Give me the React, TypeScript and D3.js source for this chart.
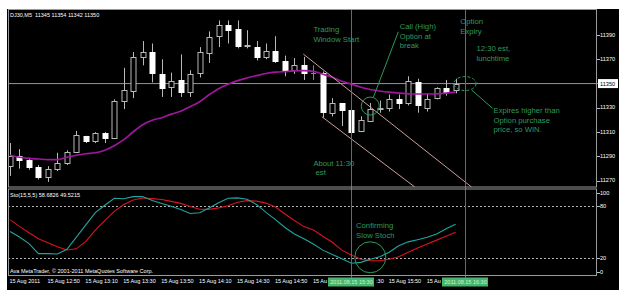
import React from 'react';
import * as d3 from 'd3';

const symbolHeader = 'DJ30,M5  11345 11354 11342 11350';
const stochHeader = 'Sto(15,5,5) 58.6826 49.5215';
const copyright = 'Ava MetaTrader, \u00A9 2001-2011 MetaQuotes Software Corp.';

const opens = [11282,11290,11287,11281,11273,11280,11285,11294,11307,11303,11309,11305,11336,11344,11372,11376,11358,11347,11353,11343,11359,11375,11389,11398,11395,11381,11380,11372,11377,11369,11361,11365,11359,11359,11326,11334,11328,11311,11319,11329,11330,11337,11334,11351,11330,11338,11346,11345];
const highs = [11301,11296,11289,11283,11282,11293,11295,11311,11307,11310,11310,11337,11363,11376,11385,11383,11370,11359,11374,11361,11380,11393,11402,11402,11402,11394,11385,11383,11389,11373,11371,11372,11365,11360,11338,11334,11328,11323,11334,11336,11341,11341,11356,11354,11342,11347,11353,11354];
const lows = [11274,11280,11279,11271,11269,11278,11283,11293,11301,11301,11301,11305,11329,11338,11365,11351,11339,11339,11339,11339,11355,11367,11380,11383,11379,11379,11369,11370,11367,11356,11358,11353,11353,11322,11323,11315,11309,11310,11319,11326,11327,11329,11332,11326,11327,11337,11340,11342];
const closes = [11290,11287,11281,11273,11280,11285,11294,11308,11303,11309,11305,11336,11345,11372,11376,11359,11346,11352,11343,11358,11376,11388,11398,11394,11381,11382,11372,11377,11369,11361,11365,11359,11359,11327,11334,11328,11310,11320,11329,11330,11337,11334,11352,11332,11337,11346,11343,11350];

const maValues = [11291,11289.3,11288.4,11287.9,11287.4,11287.4,11289.3,11291,11292.2,11293,11295.1,11298.8,11303.8,11310.3,11316.1,11319.8,11321.9,11324.8,11327.2,11331,11335.1,11340.8,11345.8,11349.5,11352.4,11354.6,11356.5,11358.3,11359.4,11359.9,11360.4,11360.6,11360,11357.7,11355.2,11351.9,11349.5,11347,11345.1,11343.9,11342.9,11342.1,11341.6,11341.4,11341.4,11341.6,11342.2,11343];

const stochMain = [50.5,44,36.5,25,25,24.5,30,44,58,72,80.5,88.5,88,90.4,90.6,86,82.6,79.5,75.7,71,72,77.5,83.5,88.6,89,87.4,81.5,72.3,64,55,47.5,42,36,29,24,19,14,15,18.5,21.5,26.5,34,38.5,41,43.7,47.5,53.5,58.7];
const stochSignal = [64,56.3,49,42,37.5,33,29.2,30.5,39,52,63,73.5,81.3,86.6,88.8,88.2,87.2,85,82.7,79,76,75.8,77.5,80,84,85.8,85.3,83,78.5,70.5,63,56,52,45,38,29,23.4,18.5,17,16.9,18.5,21.5,26.5,31.5,36,40.5,45,49.5];

const timeTickBars = [0,4,8,12,16,20,24,28,32,36,40,44];
const timeTickLabels = ['15 Aug 2011','15 Aug 12:50','15 Aug 13:10','15 Aug 13:30','15 Aug 13:50','15 Aug 14:10','15 Aug 14:30','15 Aug 14:50','15 Aug 15:10','15 Aug 15:30','15 Aug 15:50','15 Aug 16:10'];
// parts of the labels left visible beside the vertical-line time boxes
const timeTickVisible = ['15 Aug 2011','15 Aug 12:50','15 Aug 13:10','15 Aug 13:30','15 Aug 13:50','15 Aug 14:10','15 Aug 14:30','15 Aug 14:50','15 Au',':30','15 Aug 15:50','15 Au'];
const timeTickTailOnly = [false,false,false,false,false,false,false,false,false,true,false,false];
const priceTicks = [11390,11370,11330,11310,11290,11270];
const lastPrice = 11350;
const stochLevels = [80,20];
const stochTickLabels = [100,80,20,0];

const vLineBars = [36,48];
const vLineLabels = ['2011.08.15 15:30','2011.08.15 16:30'];

const channelStartBars = [30.94,32.9];
const channelStartPrices = [11374.3,11322.7];
const channelEndBars = [48.68,42.7];
const channelEndPrices = [11264.8,11264.8];

const mainNotes = [
  { bar: 32, price: 11392.1, lines: ['Trading', 'Window Start'] },
  { bar: 41.1, price: 11394.9, lines: ['Call (High)', 'Option at', 'break'] },
  { bar: 47.5, price: 11399, lines: ['Option', 'Expiry'] },
  { bar: 49.2, price: 11376.8, lines: ['12:30 est,', 'lunchtime'] },
  { bar: 51, price: 11325.7, lines: ['Expires higher than', 'Option purchase', 'price, so WIN.'] },
  { bar: 32, price: 11282.3, lines: ['About 11:30', ' est'] },
];
const stochNotes = [{ bar: 36.5, value: 54.1, lines: ['Confirming', 'Slow Stoch'] }];

const connectorBars = [[40.96, 38.32], [48.7, 50.9]];
const connectorPrices = [[11392.7, 11338.5], [11344.7, 11329.6]];

const W = 628, H = 291;
const L = 8, R = 597, MT = 10, MB = 187.5, ST = 188.5, SB = 275.5;
const SYS = '"Liberation Sans", Arial, sans-serif';
const GREEN = '#2f9a5c';

export default function App() {
  const x = d3.scaleLinear().domain([0, 47]).range([10, 455.6]);
  const y = d3.scaleLinear().domain([11264, 11410.6]).range([188, 10]);
  const ys = d3.scaleLinear().domain([0, 100]).range([275.4, 188.3]);

  const maLine = d3.line<number>().x((_, i) => x(i)).y(d => y(d)).curve(d3.curveMonotoneX);
  const stLine = d3.line<number>().x((_, i) => x(i)).y(d => ys(d));

  const candles = opens.map((o, i) => {
    const c = closes[i], h = highs[i], l = lows[i];
    const xc = Math.round(x(i));
    if (c === o) {
      return (
        <g key={i} stroke="#20b2aa" strokeWidth={1}>
          <line x1={xc + 0.5} x2={xc + 0.5} y1={y(h)} y2={y(l)} />
          <line x1={xc - 2} x2={xc + 3} y1={Math.round(y(c)) + 0.5} y2={Math.round(y(c)) + 0.5} />
        </g>
      );
    }
    const bull = c > o;
    const top = Math.round(y(Math.max(o, c))) + 0.5;
    const bot = Math.round(y(Math.min(o, c))) + 0.5;
    return (
      <g key={i}>
        <line x1={xc + 0.5} x2={xc + 0.5} y1={y(h)} y2={y(l)} stroke="#b8b8b8" strokeWidth={1} />
        <rect x={xc - 2} y={top} width={5} height={Math.max(1, bot - top)}
          fill={bull ? '#000' : '#fff'} stroke={bull ? '#b8b8b8' : '#fff'} strokeWidth={1} />
      </g>
    );
  });

  return (
    <svg width={W} height={H} style={{ position: 'absolute', left: 0, top: 0, display: 'block' }}>
      <defs>
        <clipPath id="mainClip"><rect x={L} y={MT} width={R - L} height={MB - MT} /></clipPath>
        <clipPath id="stClip"><rect x={L} y={ST} width={R - L} height={SB - ST} /></clipPath>
      </defs>
      <rect x={0} y={0} width={W} height={H} fill="#fff" />
      <rect x={7} y={9} width={612} height={281} fill="#000" />

      {/* main pane */}
      <g clipPath="url(#mainClip)">
        <line x1={L} x2={R} y1={y(lastPrice)} y2={y(lastPrice)} stroke="#8a97a6" strokeWidth={1} />
        {candles}
        <path d={maLine(maValues) || ''} fill="none" stroke="#a0169e" strokeWidth={1.7} />
        {channelStartBars.map((b, i) => (
          <line key={i} x1={x(b)} y1={y(channelStartPrices[i])} x2={x(channelEndBars[i])} y2={y(channelEndPrices[i])}
            stroke="#caa098" strokeWidth={1} />
        ))}
        <circle cx={x(38)} cy={y(11331.5)} r={9} fill="none" stroke={GREEN} strokeWidth={1} />
        <ellipse cx={x(48)} cy={y(11350)} rx={11} ry={7} fill="none" stroke={GREEN} strokeWidth={1} strokeDasharray="3,2" />
        {connectorBars.map((bs, i) => (
          <line key={i} x1={x(bs[0])} y1={y(connectorPrices[i][0])} x2={x(bs[1])} y2={y(connectorPrices[i][1])}
            stroke={GREEN} strokeWidth={1} />
        ))}
      </g>

      {/* stochastic pane */}
      <g clipPath="url(#stClip)">
        {stochLevels.map(v => (
          <line key={v} x1={L} x2={R} y1={Math.round(ys(v)) + 0.5} y2={Math.round(ys(v)) + 0.5}
            stroke="#b0b0b0" strokeWidth={1} strokeDasharray="2,2" />
        ))}
        <path d={stLine(stochSignal) || ''} fill="none" stroke="#d8141e" strokeWidth={1.1} />
        <path d={stLine(stochMain) || ''} fill="none" stroke="#1fa5a0" strokeWidth={1.1} />
        <circle cx={x(38)} cy={ys(20.8)} r={15.5} fill="none" stroke={GREEN} strokeWidth={1} />
      </g>

      {/* vertical lines */}
      {vLineBars.map(b => (
        <line key={b} x1={Math.round(x(b)) + 0.5} x2={Math.round(x(b)) + 0.5} y1={MT} y2={278} stroke="#2e8b57" strokeWidth={1} />
      ))}

      {/* frames */}
      <rect x={L + 0.5} y={MT - 0.5} width={R - L - 1} height={MB - MT} fill="none" stroke="#9a9a9a" strokeWidth={1} />
      <rect x={L + 0.5} y={ST + 0.5} width={R - L - 1} height={SB - ST - 0.5} fill="none" stroke="#9a9a9a" strokeWidth={1} />

      {/* annotations */}
      {mainNotes.map((n, k) => (
        <text key={k} x={x(n.bar)} y={y(n.price)} fill={GREEN} fontFamily={SYS} fontSize={7.7} style={{ whiteSpace: 'pre' }}>
          {n.lines.map((t, j) => <tspan key={j} x={x(n.bar)} dy={j === 0 ? 0 : 9.5}>{t}</tspan>)}
        </text>
      ))}
      {stochNotes.map((n, k) => (
        <text key={k} x={x(n.bar)} y={ys(n.value)} fill={GREEN} fontFamily={SYS} fontSize={7.7}>
          {n.lines.map((t, j) => <tspan key={j} x={x(n.bar)} dy={j === 0 ? 0 : 9.3}>{t}</tspan>)}
        </text>
      ))}

      {/* headers */}
      <text x={10} y={17} fill="#fff" fontFamily={SYS} fontSize={5.5} style={{ whiteSpace: 'pre' }}>{symbolHeader}</text>
      <text x={10} y={197} fill="#fff" fontFamily={SYS} fontSize={5.5}>{stochHeader}</text>
      <text x={10} y={272.7} fill="#fff" fontFamily={SYS} fontSize={5.5}>{copyright}</text>

      {/* price axis */}
      {priceTicks.map(p => (
        <g key={p}>
          <line x1={R} x2={R + 3} y1={Math.round(y(p)) + 0.5} y2={Math.round(y(p)) + 0.5} stroke="#bbb" />
          <text x={600} y={y(p) + 1.6} fill="#fff" fontFamily={SYS} fontSize={5.6}>{p}</text>
        </g>
      ))}
      <line x1={R} x2={599} y1={y(lastPrice)} y2={y(lastPrice)} stroke="#8a97a6" />
      <rect x={598} y={y(lastPrice) - 4.5} width={20} height={9} fill="#fff" />
      <text x={600} y={y(lastPrice) + 2} fill="#000" fontFamily={SYS} fontSize={5.6}>{lastPrice}</text>

      {/* stoch axis */}
      {stochTickLabels.map(v => {
        const yy = v === 100 ? ys(v) + 4.4 : v === 0 ? ys(v) - 3.7 : ys(v);
        return (
          <g key={v}>
            <line x1={R} x2={R + 3} y1={Math.round(yy) + 0.5} y2={Math.round(yy) + 0.5} stroke="#bbb" />
            <text x={600} y={yy + 2} fill="#fff" fontFamily={SYS} fontSize={5.6}>{v}</text>
          </g>
        );
      })}

      {/* time axis */}
      {timeTickBars.map((b, i) => (
        timeTickTailOnly[i]
          ? <text key={b} x={x(b) + 32.4} y={282.5} textAnchor="end" fill="#fff" fontFamily={SYS} fontSize={5.5}
              data-full={timeTickLabels[i]}>{timeTickVisible[i]}</text>
          : <text key={b} x={x(b) - 0.5} y={282.5} fill="#fff" fontFamily={SYS} fontSize={5.5}
              data-full={timeTickLabels[i]}>{timeTickVisible[i]}</text>
      ))}
      {vLineBars.map((b, i) => (
        <g key={b}>
          <rect x={Math.round(x(b)) - 23} y={277.5} width={46} height={9} fill="#45b46c" />
          <text x={Math.round(x(b)) + 0.5} y={283.8} textAnchor="middle" fill="#d2f2d2" fontFamily={SYS} fontSize={5.5}>{vLineLabels[i]}</text>
        </g>
      ))}
    </svg>
  );
}
